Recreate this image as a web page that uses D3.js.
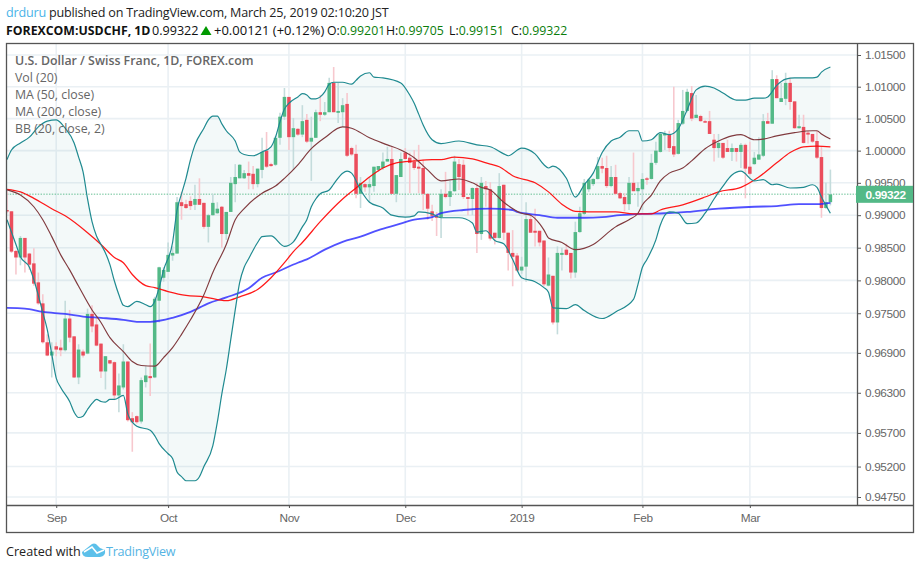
<!DOCTYPE html>
<html><head><meta charset="utf-8">
<script src="https://cdn.jsdelivr.net/npm/d3@7/dist/d3.min.js"></script>
<style>
html,body{margin:0;padding:0;background:#fff}
svg{display:block}
text{font-family:"Open Sans","Noto Sans",sans-serif}
.axis text{font-family:"Liberation Sans",Arial,sans-serif;fill:#666;letter-spacing:-.35px}
.axis path,.axis line{stroke:#555}
</style></head><body>
<svg id="c" width="920" height="569"></svg>
<script>
const opens=[.9908,.9906,.9845,.9835,.9865,.9841,.9826,.9797,.9765,.9706,
.9686,.9700,.9698,.9694,.9742,.9715,.9653,.9692,.9689,.9749,
.9733,.9704,.9662,.9679,.9676,.9626,.9638,.9677,.9592,.9595,
.9587,.9646,.9655,.9653,.9769,.9804,.9813,.9838,.9841,.9920,
.9917,.9922,.9916,.9925,.9919,.9882,.9900,.9903,.9913,.9871,
.9905,.9948,.9957,.9957,.9965,.9964,.9948,.9970,1.0000,.9979,
.9978,1.0020,1.0053,1.0084,1.0021,1.0034,1.0025,1.0048,1.0014,1.0020,
1.0060,1.0056,1.0060,1.0106,1.0059,1.0060,1.0073,1.0004,.9995,.9933,
.9948,.9943,.9945,.9970,.9973,.9983,.9987,.9933,.9959,.9997,
.9989,.9983,.9975,.9973,.9933,.9906,.9899,.9897,.9933,.9928,
.9937,.9979,.9978,.9928,.9925,.9942,.9871,.9945,.9940,.9873,
.9865,.9947,.9873,.9842,.9838,.9815,.9821,.9894,.9876,.9876,
.9861,.9792,.9807,.9736,.9839,.9847,.9842,.9812,.9874,.9902,
.9940,.9948,.9956,.9976,.9973,.9945,.9959,.9934,.9928,.9917,
.9950,.9937,.9940,.9957,.9956,.9981,.9998,1.0025,1.0025,1.0007,
.9995,1.0042,1.0062,1.0090,1.0051,1.0054,1.0046,1.0046,1.0017,1.0004,
1.0012,1.0004,.9998,1.0004,.9998,1.0009,.9975,.9979,.9986,.9992,
1.0046,1.0042,1.0112,1.0076,1.0081,1.0106,1.0077,1.0035,1.0037,1.0028,
1.0026,1.0015,.9990,.9911,.99201];
const closes=[.9906,.9844,.9835,.9865,.9835,.9824,.9795,.9765,.9706,.9686,
.9692,.9695,.9694,.9742,.9713,.9653,.9695,.9686,.9749,.9730,
.9701,.9662,.9685,.9674,.9626,.9641,.9677,.9589,.9586,.9586,
.9649,.9656,.9652,.9772,.9820,.9816,.9839,.9842,.9920,.9914,
.9911,.9914,.9925,.9916,.9882,.9900,.9919,.9910,.9871,.9905,
.9950,.9959,.9978,.9965,.9961,.9948,.9972,.9998,.9975,.9976,
1.0020,1.0053,1.0084,1.0021,1.0035,1.0025,1.0046,1.0014,1.0020,1.0060,
1.0056,1.0060,1.0106,1.0060,1.0062,1.0071,.9992,.9994,.9933,.9950,
.9943,.9948,.9975,.9976,.9983,.9987,.9933,.9962,.9987,.9987,
.9981,.9973,.9972,.9933,.9910,.9899,.9896,.9933,.9928,.9937,
.9983,.9959,.9928,.9925,.9942,.9871,.9950,.9940,.9864,.9865,
.9945,.9873,.9842,.9836,.9815,.9821,.9894,.9873,.9873,.9858,
.9794,.9809,.9736,.9842,.9842,.9839,.9812,.9874,.9903,.9950,
.9955,.9956,.9976,.9972,.9945,.9959,.9933,.9926,.9917,.9950,
.9937,.9942,.9956,.9955,.9981,1.0000,1.0026,1.0026,1.0004,.9994,
1.0043,1.0062,1.0092,1.0050,1.0056,1.0046,1.0045,1.0026,1.0004,1.0012,
.9989,.9998,1.0004,.9998,1.0009,.9972,.9964,.9989,.9994,1.0046,
1.0042,1.0112,1.0082,1.0082,1.0106,1.0076,1.0035,1.0038,1.0012,1.0025,
1.0014,.9989,.9911,.9920,.99322];
const highs=[.9939,.9906,.9847,.9868,.9865,.9842,.9849,.9812,.9779,.9718,
.9706,.9706,.9710,.9769,.9755,.9715,.9703,.9695,.9757,.9762,
.9743,.9704,.9685,.9679,.9677,.9659,.9703,.9677,.9601,.9596,
.9653,.9670,.9704,.9775,.9821,.9820,.9858,.9852,.9928,.9936,
.9924,.9929,.9947,.9957,.9919,.9902,.9933,.9920,.9914,.9905,
.9959,.9979,.9979,.9970,.9983,.9976,.9972,1.0020,1.0029,.9981,
1.0023,1.0059,1.0098,1.0084,1.0051,1.0035,1.0071,1.0057,1.0053,1.0064,
1.0087,1.0076,1.0114,1.0131,1.0106,1.0082,1.0090,1.0006,1.0009,.9959,
.9950,.9959,.9975,.9976,.9997,1.0006,1.0006,.9962,.9997,1.0004,
.9997,1.0001,1.0009,.9986,.9933,.9916,.9905,.9940,.9967,.9953,
.9992,.9987,.9986,.9928,.9943,.9950,.9959,.9953,.9951,.9873,
.9965,.9947,.9873,.9877,.9842,.9836,.9920,.9902,.9910,.9876,
.9861,.9835,.9807,.9852,.9850,.9856,.9842,.9890,.9913,.9956,
.9957,.9957,.9990,.9989,.9992,.9976,.9978,.9936,.9934,.9959,
.9997,.9951,.9965,.9959,.9995,1.0014,1.0029,1.0031,1.0031,1.0100,
1.0048,1.0095,1.0097,1.0101,1.0087,1.0056,1.0048,1.0062,1.0026,1.0026,
1.0012,1.0017,1.0011,1.0004,1.0012,1.0011,1.0014,.9998,1.0021,1.0057,
1.0059,1.0126,1.0118,1.0106,1.0122,1.0114,1.0077,1.0056,1.0056,1.0031,
1.0026,1.0031,1.0006,.9950,.99705];
const lows=[.9903,.9842,.9809,.9823,.9812,.9816,.9792,.9763,.9704,.9685,
.9653,.9685,.9685,.9692,.9706,.9652,.9643,.9683,.9688,.9721,
.9700,.9652,.9635,.9673,.9619,.9601,.9635,.9587,.9542,.9584,
.9584,.9638,.9625,.9652,.9736,.9798,.9813,.9830,.9841,.9893,
.9910,.9908,.9908,.9916,.9879,.9858,.9899,.9902,.9850,.9862,
.9905,.9920,.9957,.9956,.9940,.9940,.9943,.9957,.9973,.9975,
.9976,1.0009,1.0048,1.0001,.9970,1.0023,1.0021,1.0012,.9953,1.0020,
1.0046,1.0054,1.0060,1.0060,1.0043,1.0037,.9990,.9992,.9926,.9911,
.9936,.9920,.9936,.9967,.9970,.9983,.9933,.9920,.9959,.9986,
.9934,.9970,.9934,.9908,.9893,.9891,.9868,.9865,.9926,.9914,
.9936,.9939,.9925,.9900,.9900,.9842,.9862,.9913,.9861,.9855,
.9864,.9862,.9815,.9791,.9813,.9810,.9798,.9873,.9852,.9852,
.9791,.9791,.9733,.9718,.9815,.9838,.9803,.9804,.9873,.9900,
.9936,.9945,.9955,.9965,.9942,.9943,.9931,.9925,.9906,.9908,
.9937,.9913,.9908,.9947,.9955,.9978,.9997,1.0001,.9998,.9990,
.9994,1.0040,1.0060,1.0046,1.0051,1.0045,1.0043,1.0026,.9983,.9989,
.9987,.9998,.9984,.9983,.9973,.9926,.9962,.9978,.9986,.9990,
1.0042,1.0042,1.0082,1.0076,1.0071,1.0064,1.0034,1.0034,1.0011,1.0011,
1.0012,.9987,.9896,.9910,.99151];

const upperBars=[0,1,3,5,7,9,11,13,15,16,17,18,19,20,21,22,23,24,25,26,27,29,31,32,33,34,35,37,38,39,40,41,42,44,45,46,47,48,49,51,52,53,55,57,59,60,61,62,63,65,66,67,68,69,70,71,72,73,75,77,78,79,81,82,84,88,90,91,92,93,95,97,101,105,108,111,112,115,118,120,121,122,125,127,129,131,133,135,137,139,141,142,144,146,148,150,152,154,156,158,160,163,165,167,169,170,172,174,176,180,181,182,184];
const upperBand=[.9986,1.0001,1.0012,1.0021,1.0037,1.0046,1.0048,1.0035,1.0012,.9990,.9967,.9925,.9890,.9868,.9855,.9842,.9824,.9799,.9778,.9762,.9760,.9768,.9763,.9760,.9768,.9789,.9816,.9858,.9908,.9933,.9957,.9986,1.0009,1.0035,1.0048,1.0054,1.0054,1.0042,1.0031,1.0015,.9998,.9994,.9992,.9998,1.0006,1.0021,1.0045,1.0065,1.0074,1.0084,1.0089,1.0087,1.0081,1.0081,1.0084,1.0092,1.0104,1.0107,1.0107,1.0104,1.0110,1.0117,1.0122,1.0115,1.0114,1.0106,1.0087,1.0074,1.0057,1.0040,1.0017,1.0011,1.0015,1.0009,1.0006,.9995,.9992,1.0004,.9995,.9978,.9973,.9976,.9957,.9928,.9947,.9965,.9997,1.0015,1.0021,1.0031,1.0031,1.0015,1.0017,1.0028,1.0025,1.0034,1.0064,1.0095,1.0101,1.0098,1.0090,1.0079,1.0079,1.0082,1.0082,1.0084,1.0102,1.0112,1.0114,1.0114,1.0115,1.0123,1.0131];
const lowerBars=[0,2,3,5,6,8,9,10,11,12,14,15,16,17,18,19,20,21,22,23,24,26,27,28,29,32,33,34,36,37,38,39,40,42,43,44,46,47,48,49,50,51,52,53,54,56,57,59,62,64,66,67,68,69,70,72,73,75,76,77,79,81,84,86,89,91,92,95,97,101,104,105,107,109,111,113,115,118,120,121,122,125,127,129,133,136,140,141,142,143,145,146,148,150,152,154,156,158,160,162,164,167,169,171,172,175,178,180,181,182,184];
const lowerBand=[.9893,.9855,.9836,.9820,.9801,.9751,.9725,.9688,.9652,.9638,.9617,.9601,.9593,.9595,.9605,.9614,.9620,.9617,.9616,.9620,.9620,.9626,.9598,.9586,.9580,.9574,.9566,.9554,.9539,.9532,.9512,.9505,.9499,.9499,.9505,.9520,.9551,.9586,.9628,.9665,.9710,.9755,.9797,.9820,.9833,.9858,.9867,.9868,.9852,.9859,.9882,.9893,.9913,.9925,.9933,.9939,.9948,.9965,.9968,.9965,.9939,.9920,.9911,.9900,.9897,.9899,.9905,.9902,.9896,.9896,.9888,.9874,.9876,.9861,.9856,.9832,.9804,.9798,.9789,.9782,.9758,.9757,.9763,.9754,.9742,.9752,.9771,.9794,.9820,.9832,.9862,.9885,.9905,.9903,.9887,.9888,.9903,.9925,.9945,.9962,.9968,.9953,.9955,.9947,.9948,.9942,.9943,.9947,.9943,.9928,.9903];
const basisBars=[0,3,6,8,10,12,14,16,19,21,23,26,28,30,33,35,37,39,41,44,46,49,51,53,57,60,62,65,68,71,75,77,81,85,88,91,94,97,101,104,106,108,111,115,117,119,120,121,124,127,131,135,136,139,141,142,144,146,148,151,153,156,159,162,164,167,169,172,176,180,181,182,184];
const basisLine=[.9939,.9931,.9913,.9893,.9867,.9839,.9816,.9791,.9755,.9736,.9713,.9692,.9677,.9671,.9670,.9683,.9698,.9718,.9740,.9778,.9812,.9855,.9893,.9910,.9934,.9945,.9957,.9978,1.0003,1.0020,1.0037,1.0035,1.0020,1.0009,1.0001,.9989,.9970,.9953,.9956,.9950,.9943,.9939,.9920,.9903,.9900,.9887,.9877,.9865,.9858,.9847,.9855,.9877,.9882,.9893,.9903,.9916,.9931,.9953,.9965,.9973,.9984,1.0003,1.0015,1.0023,1.0025,1.0017,1.0018,1.0023,1.0028,1.0031,1.0031,1.0026,1.0018];
const ma50Bars=[0,3,6,10,13,18,21,24,26,28,31,33,36,40,44,49,52,56,59,62,64,66,70,75,78,81,84,87,91,95,97,100,104,108,110,113,118,121,124,127,133,136,140,144,146,151,156,159,164,168,172,175,178,181,184];
const ma50=[.9940,.9936,.9926,.9910,.9899,.9873,.9855,.9835,.9827,.9809,.9792,.9789,.9783,.9777,.9775,.9769,.9775,.9786,.9804,.9827,.9844,.9858,.9890,.9925,.9942,.9959,.9973,.9981,.9984,.9986,.9986,.9990,.9987,.9979,.9975,.9961,.9950,.9936,.9917,.9906,.9905,.9905,.9902,.9902,.9908,.9916,.9928,.9936,.9943,.9959,.9981,.9997,1.0006,1.0007,1.0006];
const ma200Bars=[0,4,8,13,17,21,26,29,32,37,41,45,49,54,57,60,65,67,71,75,79,83,87,91,95,97,102,108,113,114,119,123,129,133,137,142,147,152,159,167,172,177,181,184];
const ma200=[.9758,.9757,.9752,.9749,.9745,.9743,.9740,.9737,.9737,.9743,.9752,.9765,.9774,.9788,.9804,.9812,.9827,.9832,.9847,.9859,.9867,.9877,.9885,.9893,.9897,.9903,.9908,.9910,.9908,.9905,.9900,.9896,.9896,.9897,.9900,.9902,.9903,.9905,.9910,.9913,.9914,.9917,.9917,.9919];

const priceTicks=[1.015,1.01,1.005,1,.995,.99,.985,.98,.975,.969,.963,.957,.952,.9475];
const monthBars=[11,36,63,89,115,142,166];
const monthLabels=["Sep","Oct","Nov","Dec","2019","Feb","Mar"];
const legendRows=["U.S. Dollar / Swiss Franc, 1D, FOREX.com","Vol (20)","MA (50, close)","MA (200, close)","BB (20, close, 2)"];
const lastPrice=.99322;

const svg=d3.select("#c");
const x=d3.scaleLinear().domain([0,184]).range([7,830.4]);
const y=d3.scaleLog().domain([.9475,1.015]).range([497,55]);
const pane={l:7,r:857,t:44,b:505};

svg.append("defs").append("clipPath").attr("id","pane").append("rect")
  .attr("x",pane.l).attr("y",pane.t).attr("width",pane.r-pane.l).attr("height",pane.b-pane.t);

// grid
const grid=svg.append("g").attr("stroke","#eaf0f4").attr("stroke-width",1.6);
grid.selectAll("line.h").data(priceTicks).join("line").attr("class","h")
  .attr("x1",pane.l).attr("x2",pane.r).attr("y1",d=>y(d)).attr("y2",d=>y(d));
grid.selectAll("line.v").data(monthBars).join("line").attr("class","v")
  .attr("x1",d=>x(d)).attr("x2",d=>x(d)).attr("y1",pane.t).attr("y2",pane.b);

const plot=svg.append("g").attr("clip-path","url(#pane)");
const pts=(b,v)=>b.map((d,i)=>[d,v[i]]);
const line=d3.line().x(d=>x(d[0])).y(d=>y(d[1])).curve(d3.curveMonotoneX);

// band fill
const up=pts(upperBars,upperBand), lo=pts(lowerBars,lowerBand);
plot.append("path")
  .attr("d",line(up)+"L"+line(lo.slice().reverse()).slice(1)+"Z")
  .attr("fill","#138484").attr("fill-opacity",.05);

// last price line
plot.append("line").attr("x1",pane.l).attr("x2",pane.r).attr("y1",y(lastPrice)).attr("y2",y(lastPrice))
  .attr("stroke","#53b987").attr("stroke-opacity",.6).attr("stroke-width",1.6).attr("stroke-dasharray","1.4 1.4");

// candles
const bars=d3.range(opens.length);
const isUp=i=>closes[i]>=opens[i];
plot.append("g").selectAll("line").data(bars).join("line")
  .attr("x1",x).attr("x2",x).attr("y1",i=>y(highs[i])).attr("y2",i=>y(lows[i]))
  .attr("stroke",i=>isUp(i)?"#c4dcdc":"#f7c8ce").attr("stroke-width",1.6);
plot.append("g").selectAll("rect").data(bars).join("rect")
  .attr("x",i=>x(i)-1.75).attr("width",3.5)
  .attr("y",i=>Math.min(y(opens[i]),y(closes[i])))
  .attr("height",i=>Math.max(1.5,Math.abs(y(opens[i])-y(closes[i]))))
  .attr("fill",i=>isUp(i)?"#53b987":"#eb4d5c");

// overlays
const over=(d,c,w,o)=>plot.append("path").attr("d",line(d)).attr("fill","none")
  .attr("stroke",c).attr("stroke-width",w).attr("stroke-opacity",o||1);
over(pts(ma200Bars,ma200),"#2525ff",1.8,.8);
over(pts(ma50Bars,ma50),"#ff0000",1.25,.9);
over(pts(basisBars,basisLine),"#803a3e",1.15);
over(up,"#1f8a90",1.2);
over(lo,"#1f8a90",1.2);

// axes
const yAxis=d3.axisRight(y).tickValues(priceTicks).tickFormat(d3.format(".5f")).tickSize(4).tickPadding(4);
svg.append("g").attr("class","axis").attr("transform",`translate(${pane.r},0)`).call(yAxis)
  .call(g=>g.select(".domain").remove());
const xAxis=d3.axisBottom(x).tickValues(monthBars).tickFormat((d,i)=>monthLabels[i]).tickSize(3).tickPadding(6);
svg.append("g").attr("class","axis").attr("transform",`translate(0,${pane.b})`).call(xAxis)
  .call(g=>g.select(".domain").remove());
svg.selectAll(".axis text").style("font-size","11.8px");

// frame
const fr=svg.append("g").attr("stroke","#555").attr("stroke-width",1.3).attr("fill","none");
fr.append("rect").attr("x",6.5).attr("y",43.5).attr("width",907).attr("height",489);
fr.append("line").attr("x1",6.5).attr("x2",913.5).attr("y1",505.5).attr("y2",505.5);
fr.append("line").attr("x1",857.5).attr("x2",857.5).attr("y1",43.5).attr("y2",505.5);

// price tag
svg.append("rect").attr("x",856).attr("y",y(lastPrice)-8.5).attr("width",57).attr("height",17).attr("fill","#53b987");
svg.append("text").attr("x",865.5).attr("y",y(lastPrice)+4.5).attr("fill","#fff").attr("letter-spacing","-.35px")
  .attr("font-size",11.8).attr("font-weight",700).style("font-family",'"Liberation Sans",Arial,sans-serif').text(d3.format(".5f")(lastPrice));

// legend
svg.append("g").selectAll("text").data(legendRows).join("text")
  .attr("x",15).attr("y",(d,i)=>65+i*17).attr("font-size",12.35)
  .attr("font-weight",(d,i)=>i?400:600).attr("fill","#666").text(d=>d);

// header
const h1=svg.append("text").attr("x",6).attr("y",17).attr("font-size",12.6).attr("letter-spacing","-.2px").attr("fill","#222");
h1.append("tspan").attr("fill","#4ab3e8").text("drduru");
h1.append("tspan").text(" published on TradingView.com, March 25, 2019 02:10:20 JST");
svg.append("text").attr("x",6).attr("y",35).attr("font-size",12.3).attr("font-weight",700).attr("fill","#111").text("FOREXCOM:USDCHF, 1D");
svg.append("text").attr("x",152).attr("y",35).attr("font-size",12.6).attr("fill","#111").text("0.99322");
svg.append("path").attr("d","M200.5 35 L206 26 L211.5 35 Z").attr("fill","#009900");
svg.append("text").attr("x",214).attr("y",35).attr("font-size",13).attr("fill","#111").text("+0.00121 (+0.12%)");
[["O:","0.99201",327],["H:","0.99705",386],["L:","0.99151",449],["C:","0.99322",511]].forEach(r=>{
  const t=svg.append("text").attr("x",r[2]).attr("y",35).attr("font-size",12.3).attr("fill","#111");
  t.append("tspan").text(r[0]);
  t.append("tspan").attr("fill","#0a7d0a").text(r[1]);
});

// footer
svg.append("text").attr("x",6).attr("y",556).attr("font-size",12.6).attr("fill","#222").text("Created with");
svg.append("path").attr("d","M82 552 L92 544 Q94 543 96 544 L100 548 L105 550 Q106 556 100 557 L88 557 Q82 557 82 552 Z").attr("fill","#5cc0ea");
svg.append("path").attr("d","M84 552 L92 547 L97 553 L104 550").attr("fill","none").attr("stroke","#fff").attr("stroke-width",1.6);
svg.append("text").attr("x",106).attr("y",556).attr("font-size",12.6).attr("letter-spacing","-.25px").attr("fill","#55b4e4").text("TradingView");
</script>
</body></html>
